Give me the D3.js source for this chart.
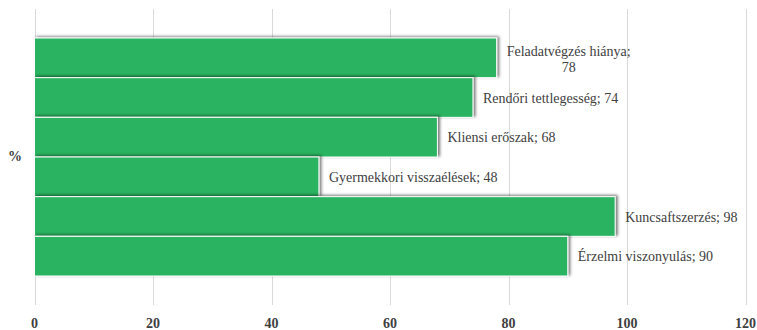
<!DOCTYPE html>
<html><head><meta charset="utf-8">
<script src="https://cdn.jsdelivr.net/npm/d3@7"></script>
<style>body{margin:0;background:#fff}svg{display:block}</style>
</head><body>
<svg id="c" width="757" height="330"></svg>
<script>
const series = ["Feladatvégzés hiánya", "Rendőri tettlegesség", "Kliensi erőszak", "Gyermekkori visszaélések", "Kuncsaftszerzés", "Érzelmi viszonyulás"];
const values = [78, 74, 68, 48, 98, 90];
const category = ["%"];
const xTicks = [0, 20, 40, 60, 80, 100, 120];

(function () {
const FONT = '"Liberation Serif"';
const svg = d3.select("#c");
const pLeft = 34.5, pRight = 745.5, pTop = 9, pBottom = 305;
const x = d3.scaleLinear().domain([0, 120]).range([pLeft, pRight]);
const yCat = d3.scaleBand().domain(category).range([pTop, pBottom]);
const y = d3.scaleBand().domain(series).range([38, 276]);

const defs = svg.append("defs");
const f = defs.append("filter").attr("id", "sh").attr("x", "-10%").attr("y", "-30%").attr("width", "120%").attr("height", "160%");
f.append("feDropShadow").attr("dx", 2).attr("dy", -1).attr("stdDeviation", 1.8).attr("flood-color", "#000").attr("flood-opacity", 0.55);

svg.append("g").selectAll("line").data(xTicks).join("line")
  .attr("x1", d => Math.round(x(d)) + 0.5).attr("x2", d => Math.round(x(d)) + 0.5)
  .attr("y1", pTop).attr("y2", pBottom)
  .attr("stroke", "#d9d9d9").attr("stroke-width", 1);

svg.append("g").selectAll("text").data(xTicks).join("text")
  .attr("x", d => x(d)).attr("y", 328)
  .attr("text-anchor", "middle")
  .style("font-family", FONT).style("font-weight", "bold").style("font-size", "14px")
  .attr("fill", "#404040").text(d => d);

svg.append("text").attr("x", 15).attr("y", yCat("%") + yCat.bandwidth() / 2 + 4)
  .attr("text-anchor", "middle")
  .style("font-family", FONT).style("font-weight", "bold").style("font-size", "14px")
  .attr("fill", "#404040").text(category[0]);

const data = series.map((s, i) => ({ s, v: values[i] }));
svg.append("g").selectAll("rect").data(data).join("rect")
  .attr("x", x(0)).attr("y", d => y(d.s))
  .attr("width", d => x(d.v) - x(0)).attr("height", y.bandwidth())
  .attr("fill", "#2ab360").attr("stroke", "#fff").attr("stroke-width", 1)
  .attr("filter", "url(#sh)");

const lg = svg.append("g");
const lab = sel => sel.style("font-family", FONT).style("font-size", "14px").attr("fill", "#404040");
data.forEach((d, i) => {
  const cy = y(d.s) + y.bandwidth() / 2;
  const tx = x(d.v) + 10;
  if (i === 0) {
    const t = lg.append("text").attr("x", tx).attr("y", cy - 2).call(lab).text(d.s + ";");
    const w = t.node().getComputedTextLength();
    lg.append("text").attr("x", tx + w / 2).attr("y", cy + 14).attr("text-anchor", "middle").call(lab).text(d.v);
  } else {
    lg.append("text").attr("x", tx).attr("y", cy + 5).call(lab).text(d.s + "; " + d.v);
  }
});
})();
</script>
</body></html>
